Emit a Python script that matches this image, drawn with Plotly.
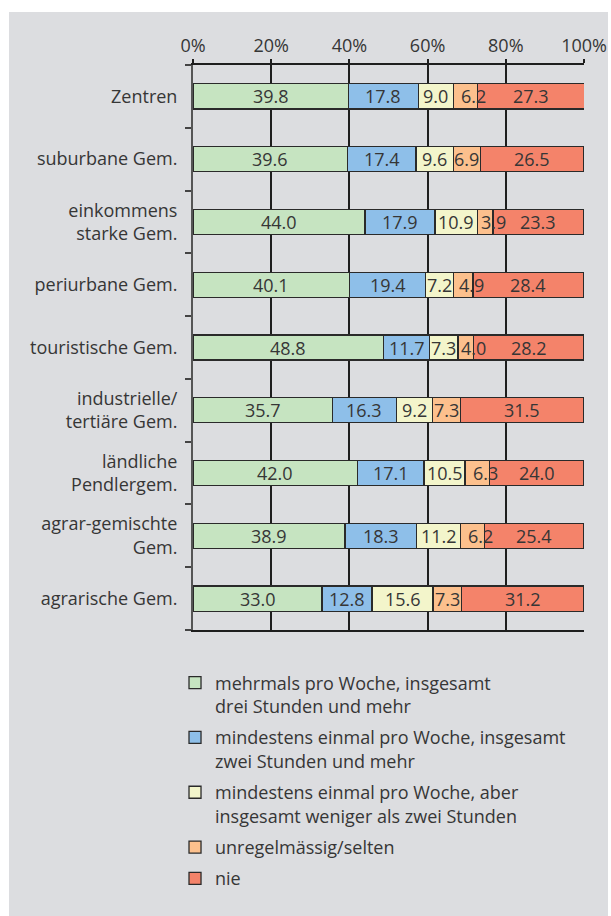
import plotly.graph_objects as go

categories = ["Zentren", "suburbane Gem.", "einkommens<br>starke Gem.", "periurbane Gem.",
              "touristische Gem.", "industrielle/<br>tertiäre Gem.", "ländliche<br>Pendlergem.",
              "agrar-gemischte<br>Gem.", "agrarische Gem."]

mehrmals = [39.8, 39.6, 44.0, 40.1, 48.8, 35.7, 42.0, 38.9, 33.0]
einmal_zwei = [17.8, 17.4, 17.9, 19.4, 11.7, 16.3, 17.1, 18.3, 12.8]
einmal_weniger = [9.0, 9.6, 10.9, 7.2, 7.3, 9.2, 10.5, 11.2, 15.6]
selten = [6.2, 6.9, 3.9, 4.9, 4.0, 7.3, 6.3, 6.2, 7.3]
nie = [27.3, 26.5, 23.3, 28.4, 28.2, 31.5, 24.0, 25.4, 31.2]

series_names = [
    "mehrmals pro Woche, insgesamt<br>drei Stunden und mehr",
    "mindestens einmal pro Woche, insgesamt<br>zwei Stunden und mehr",
    "mindestens einmal pro Woche, aber<br>insgesamt weniger als zwei Stunden",
    "unregelmässig/selten",
    "nie",
]
series_values = [mehrmals, einmal_zwei, einmal_weniger, selten, nie]
colors = ["#c6e4c1", "#8ebfe9", "#f3f5cb", "#fcc08d", "#f4836a"]

x_ticks = [0, 20, 40, 60, 80, 100]
x_ticklabels = ["0%", "20%", "40%", "60%", "80%", "100%"]

FONT = "Open Sans"
FS = 18
TXT = "#363636"
BG = "#dcdde0"

fig = go.Figure()
for i, (name, vals, col) in enumerate(zip(series_names, series_values, colors)):
    fig.add_trace(go.Bar(
        y=list(range(len(categories))), x=vals, orientation="h", name=name,
        marker=dict(color=col, line=dict(color="#2a2a2a", width=1.3)),
        width=0.4, legendgroup=f"g{i}", hoverinfo="x+name",
    ))

# value labels centred in each segment (narrow segments nudged right a little)
annotations = []
for ci in range(len(categories)):
    cum = 0.0
    for vals in series_values:
        v = vals[ci]
        annotations.append(dict(
            x=cum + v / 2, y=ci, xref="x", yref="y", text=f"{v:.1f}",
            showarrow=False, xshift=8 if v < 6.5 else 0,
            font=dict(family=FONT, size=FS, color=TXT),
        ))
        cum += v

fig.update_layout(
    width=611, height=916,
    barmode="stack",
    paper_bgcolor="white",
    plot_bgcolor="rgba(0,0,0,0)",
    margin=dict(l=193, r=27, t=65, b=286, autoexpand=False),
    font=dict(family=FONT, size=FS, color=TXT),
    xaxis=dict(
        side="top", range=[0, 100], tickvals=x_ticks, ticktext=x_ticklabels,
        showgrid=True, gridcolor="#1e1e1e", gridwidth=2,
        showline=True, linecolor="#1e1e1e", linewidth=2, mirror=True,
        ticks="outside", ticklen=4, tickcolor="#1e1e1e", tickwidth=2,
        zeroline=False, automargin=False,
    ),
    yaxis=dict(
        range=[8.5, -0.5], tickmode="array",
        tickvals=list(range(len(categories))), ticktext=categories,
        showgrid=False, showline=True, linecolor="#555555", linewidth=2,
        ticks="", zeroline=False, automargin=False,
        ticklabelstandoff=10,
    ),
    legend=dict(
        x=-0.046, xanchor="left", y=-0.061, yanchor="top",
        bgcolor="rgba(0,0,0,0)", valign="top", itemwidth=30,
        tracegroupgap=5, traceorder="grouped",
        font=dict(family=FONT, size=FS, color=TXT),
    ),
    annotations=annotations,
    shapes=[dict(type="rect", xref="paper", yref="paper", layer="below",
                 x0=-0.4706, x1=1.0614, y0=-0.51, y1=1.0938,
                 fillcolor=BG, line=dict(width=0))],
)

# boundary ticks on the category axis (between the categories)
fig.update_yaxes(minor=dict(tickvals=[k - 0.5 for k in range(len(categories) + 1)],
                            ticks="outside", ticklen=6, tickcolor="#444444",
                            tickwidth=2, showgrid=False))

fig.write_html("out.html", config={"displayModeBar": False},
               post_script="document.body.style.margin='0';document.body.style.overflow='hidden';")
